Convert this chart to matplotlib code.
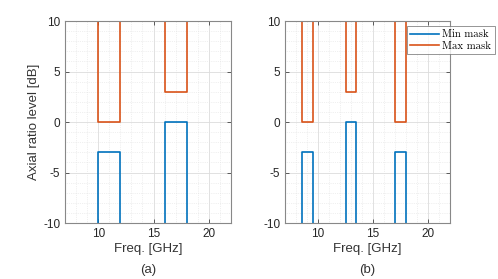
import numpy as np
import matplotlib.pyplot as plt
from matplotlib.ticker import MultipleLocator

# band edges [GHz] and mask levels [dB]
bands_a = [(10, 12), (16, 18)]
min_a = [-3, 0]
max_a = [0, 3]

bands_b = [(8.5, 9.5), (12.5, 13.5), (17, 18)]
min_b = [-3, 0, -3]
max_b = [0, 3, 0]

ylo, yhi = -10, 10

def mask_path(bands, levels, edge):
    xs, ys = [], []
    for (f1, f2), lv in zip(bands, levels):
        xs += [f1, f1, f2, f2, np.nan]
        ys += [edge, lv, lv, edge, np.nan]
    return xs, ys

plt.rcParams['font.family'] = ['Liberation Sans', 'DejaVu Sans']
plt.rcParams['axes.unicode_minus'] = False
blue = '#0072BD'
orange = '#D95319'

fig = plt.figure(figsize=(4.98, 2.79), dpi=100)
ax1 = fig.add_axes([0.1305, 0.2007, 0.3333, 0.724])
ax2 = fig.add_axes([0.5723, 0.2007, 0.3313, 0.724])

for ax, bands, mn, mx, tag in [(ax1, bands_a, min_a, max_a, '(a)'),
                               (ax2, bands_b, min_b, max_b, '(b)')]:
    x, y = mask_path(bands, mn, ylo)
    ax.plot(x, y, color=blue, lw=1.2, label='Min mask')
    x, y = mask_path(bands, mx, yhi)
    ax.plot(x, y, color=orange, lw=1.2, label='Max mask')
    ax.set_xlim(7, 22)
    ax.set_ylim(ylo, yhi)
    ax.xaxis.set_major_locator(MultipleLocator(5))
    ax.yaxis.set_major_locator(MultipleLocator(5))
    ax.xaxis.set_minor_locator(MultipleLocator(1))
    ax.yaxis.set_minor_locator(MultipleLocator(1))
    ax.grid(which='major', color='#dcdcdc', lw=0.6)
    ax.grid(which='minor', color='#e2e2e2', lw=0.5, ls=':')
    ax.set_axisbelow(True)
    ax.tick_params(which='both', direction='in', top=True, right=True,
                   labelsize=8.5, color='#444444', labelcolor='#262626', width=0.6)
    ax.tick_params(which='major', length=3)
    ax.tick_params(which='minor', length=0)
    for s in ax.spines.values():
        s.set_color('#888888')
        s.set_linewidth(0.8)
    ax.set_xlabel('Freq. [GHz]', fontsize=9.5, color='#333333', labelpad=2)
    pos = ax.get_position()
    fig.text((pos.x0 + pos.x1) / 2, 1 - 270 / 279, tag, ha='center', va='center',
             fontsize=9.5, color='#333333')

ax1.set_ylabel('Axial ratio level [dB]', fontsize=9.5, color='#333333', labelpad=2)

leg = ax2.legend(loc='upper left', bbox_to_anchor=(406.5 / 498, 1 - 26.5 / 279),
                 bbox_transform=fig.transFigure, prop={'family': 'cmr10', 'size': 7.8},
                 frameon=True, fancybox=False, handlelength=2.7, borderpad=0.3,
                 labelspacing=0.15, handletextpad=0.3, borderaxespad=0)
leg.get_frame().set_edgecolor('#666666')
leg.get_frame().set_linewidth(0.6)

fig.savefig('out.png', dpi=100)
